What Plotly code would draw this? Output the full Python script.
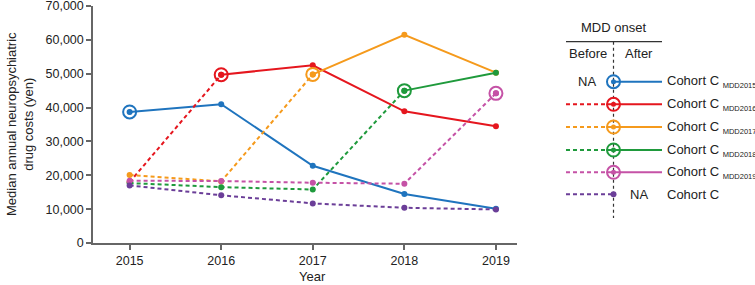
import plotly.graph_objects as go

years = [2015, 2016, 2017, 2018, 2019]
cohort_names = ["MDD2015", "MDD2016", "MDD2017", "MDD2018", "MDD2019", None]
onset_years = [2015, 2016, 2017, 2018, 2019, None]
values = {
    "MDD2015": [38700, 41000, 22800, 14500, 10100],
    "MDD2016": [18000, 49700, 52500, 38900, 34500],
    "MDD2017": [20100, 18200, 49800, 61500, 50300],
    "MDD2018": [17700, 16500, 15800, 45000, 50300],
    "MDD2019": [18400, 18300, 17800, 17500, 44200],
    "C": [17000, 14100, 11700, 10400, 9900],
}
colors = ["#1f74be", "#e5161e", "#f59a1c", "#1f9a3c", "#c552a6", "#6b3e98"]
ytick_vals = [0, 10000, 20000, 30000, 40000, 50000, 60000, 70000]
ytick_text = ["0", "10,000", "20,000", "30,000", "40,000", "50,000", "60,000", "70,000"]

W, H = 755, 285
ML, MR, MT, MB = 93, 0, 6, 42
PW = W - ML - MR
PH = H - MT - MB
main_right = 517
dom_end = (main_right - ML) / PW
leg_start = 0.66
leg_x0 = ML + leg_start * PW

DASH = "4px,3px"
fig = go.Figure()


def onset_marker(x, y, col, xa="x", ya="y"):
    fig.add_trace(go.Scatter(x=x, y=y, mode="markers", xaxis=xa, yaxis=ya,
                             marker=dict(symbol="circle-open", size=13, color=col,
                                         line=dict(color=col, width=2)),
                             showlegend=False, hoverinfo="skip"))
    fig.add_trace(go.Scatter(x=x, y=y, mode="markers", xaxis=xa, yaxis=ya,
                             marker=dict(size=5, color=col),
                             showlegend=False, hoverinfo="skip"))


keys = ["MDD2015", "MDD2016", "MDD2017", "MDD2018", "MDD2019", "C"]
for k, col, onset in zip(keys, colors, onset_years):
    v = values[k]
    if onset is None:
        fig.add_trace(go.Scatter(x=years, y=v, mode="lines+markers",
                                 line=dict(color=col, width=2, dash=DASH),
                                 marker=dict(size=6, color=col), showlegend=False))
        continue
    i = years.index(onset)
    if i > 0:
        fig.add_trace(go.Scatter(x=years[:i + 1], y=v[:i + 1], mode="lines+markers",
                                 line=dict(color=col, width=2, dash=DASH),
                                 marker=dict(size=6, color=col), showlegend=False))
    fig.add_trace(go.Scatter(x=years[i:], y=v[i:], mode="lines+markers",
                             line=dict(color=col, width=2),
                             marker=dict(size=6, color=col), showlegend=False))
    onset_marker([onset], [v[i]], col)

# ---- custom legend (pixel coordinates on helper axes) ----
row_y = [81.7, 104.3, 127, 150, 172.3, 194.3]
lx_dash0, lx_mid, lx_sol1 = 566, 613.5, 662
fig.add_trace(go.Scatter(x=[lx_dash0, lx_sol1], y=[41.7, 41.7], mode="lines",
                         line=dict(color="#333", width=1.3), xaxis="x2", yaxis="y2",
                         showlegend=False, hoverinfo="skip"))
fig.add_trace(go.Scatter(x=[lx_mid, lx_mid], y=[41.7, 218], mode="lines",
                         line=dict(color="#333", width=1.2, dash="3px,3px"), xaxis="x2", yaxis="y2",
                         showlegend=False, hoverinfo="skip"))
annotations = []
for r, (k, col, onset) in enumerate(zip(cohort_names, colors, onset_years)):
    y = row_y[r]
    if r > 0:
        fig.add_trace(go.Scatter(x=[lx_dash0, lx_mid], y=[y, y], mode="lines",
                                 line=dict(color=col, width=2, dash=DASH), xaxis="x2", yaxis="y2",
                                 showlegend=False, hoverinfo="skip"))
    else:
        annotations.append(dict(x=587, y=y, xref="x2", yref="y2", text="NA", showarrow=False,
                                font=dict(size=13, color="#222")))
    if k is not None:
        fig.add_trace(go.Scatter(x=[lx_mid, lx_sol1], y=[y, y], mode="lines",
                                 line=dict(color=col, width=2), xaxis="x2", yaxis="y2",
                                 showlegend=False, hoverinfo="skip"))
        onset_marker([lx_mid], [y], col, "x2", "y2")
        txt = "Cohort C <sub><span style='font-size:7.5px'>%s</span></sub>" % k
    else:
        fig.add_trace(go.Scatter(x=[lx_mid], y=[y], mode="markers",
                                 marker=dict(size=6, color=col),
                                 xaxis="x2", yaxis="y2", showlegend=False, hoverinfo="skip"))
        annotations.append(dict(x=639, y=y, xref="x2", yref="y2", text="NA", showarrow=False,
                                font=dict(size=13, color="#222")))
        txt = "Cohort C"
    annotations.append(dict(x=665, y=y, xref="x2", yref="y2", text=txt, showarrow=False,
                            xanchor="left", yanchor="middle", font=dict(size=13, color="#222")))

annotations += [
    dict(x=613.5, y=27.7, xref="x2", yref="y2", text="MDD onset", showarrow=False,
         font=dict(size=13, color="#222")),
    dict(x=588, y=53.5, xref="x2", yref="y2", text="Before", showarrow=False,
         font=dict(size=13, color="#222")),
    dict(x=639, y=53.5, xref="x2", yref="y2", text="After", showarrow=False,
         font=dict(size=13, color="#222")),
    dict(x=2017, y=(H - MB - 276.5) / PH, xref="x", yref="paper", text="Year", showarrow=False,
         yanchor="middle", font=dict(size=13, color="#222")),
    dict(x=(20 - ML) / PW, y=(H - MB - 124) / PH, xref="paper", yref="paper",
         xanchor="center", yanchor="middle",
         text="Median annual neuropsychiatric<br>drug costs (yen)",
         showarrow=False, textangle=-90, font=dict(size=13, color="#222")),
]

fig.update_layout(
    width=W, height=H,
    margin=dict(l=ML, r=MR, t=MT, b=MB, autoexpand=False),
    paper_bgcolor="white", plot_bgcolor="white",
    font=dict(family="Liberation Sans, Arial, sans-serif", size=12, color="#222"),
    xaxis=dict(domain=[0, dom_end], range=[2014.6, 2019.23], tickvals=years,
               showgrid=False, zeroline=False, showline=True, linecolor="#666", linewidth=1.5,
               ticks="outside", ticklen=5, tickcolor="#666", tickwidth=1.5,
               tickfont=dict(size=12.5), automargin=False, ticklabeloverflow="allow"),
    yaxis=dict(range=[0, 70000], tickvals=ytick_vals, ticktext=ytick_text,
               showgrid=False, zeroline=False, showline=True, linecolor="#666", linewidth=1.5,
               ticks="outside", ticklen=5, tickcolor="#666", tickwidth=1.5,
               tickfont=dict(size=12.5), automargin=False, ticklabeloverflow="allow"),
    xaxis2=dict(domain=[leg_start, 1], range=[leg_x0, W - MR], visible=False, anchor="y2"),
    yaxis2=dict(domain=[0, 1], range=[H - MB, MT], visible=False, anchor="x2"),
    annotations=annotations,
)

fig.write_html("out.html", config={"displayModeBar": False},
               post_script="document.body.style.margin='0px';")
